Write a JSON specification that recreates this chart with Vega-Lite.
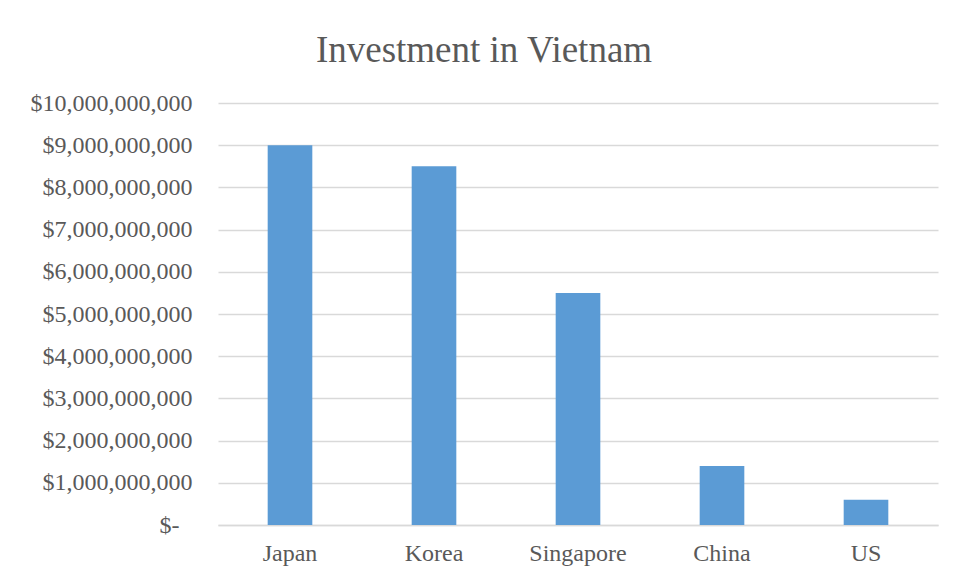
{
  "$schema": "https://vega.github.io/schema/vega-lite/v6.json",
  "autosize": {"type": "none"},
  "width": 720,
  "height": 422,
  "padding": {"left": 218, "top": 103, "right": 20, "bottom": 55},
  "background": "white",
  "title": {
    "text": "Investment in Vietnam",
    "font": "Liberation Serif",
    "fontSize": 37,
    "fontWeight": "normal",
    "color": "#595959",
    "anchor": "middle",
    "frame": "bounds",
    "offset": 21
  },
  "data": {
    "values": [
      {"country": "Japan", "investment": 9000000000},
      {"country": "Korea", "investment": 8500000000},
      {"country": "Singapore", "investment": 5500000000},
      {"country": "China", "investment": 1400000000},
      {"country": "US", "investment": 600000000}
    ]
  },
  "mark": {"type": "bar", "color": "#5B9BD5"},
  "encoding": {
    "x": {
      "field": "country",
      "type": "nominal",
      "sort": null,
      "scale": {"paddingInner": 0.69, "paddingOuter": 0.345},
      "axis": {
        "title": null,
        "labelAngle": 0,
        "labelFont": "Liberation Serif",
        "labelFontSize": 24,
        "labelColor": "#595959",
        "labelPadding": 16,
        "ticks": false,
        "domainColor": "#D9D9D9",
        "domainWidth": 1.3
      }
    },
    "y": {
      "field": "investment",
      "type": "quantitative",
      "scale": {"domain": [0, 10000000000]},
      "axis": {
        "title": null,
        "values": [0, 1000000000, 2000000000, 3000000000, 4000000000, 5000000000, 6000000000, 7000000000, 8000000000, 9000000000, 10000000000],
        "labelExpr": "datum.value == 0 ? '$-' : '$' + format(datum.value, ',.0f')",
        "labelFont": "Liberation Serif",
        "labelFontSize": 24,
        "labelColor": "#595959",
        "labelPadding": {"condition": {"test": "datum.value == 0", "value": 39}, "value": 26},
        "ticks": false,
        "domain": false,
        "grid": true,
        "gridColor": "#D9D9D9",
        "gridWidth": 1.3
      }
    }
  },
  "config": {"view": {"stroke": null}}
}
